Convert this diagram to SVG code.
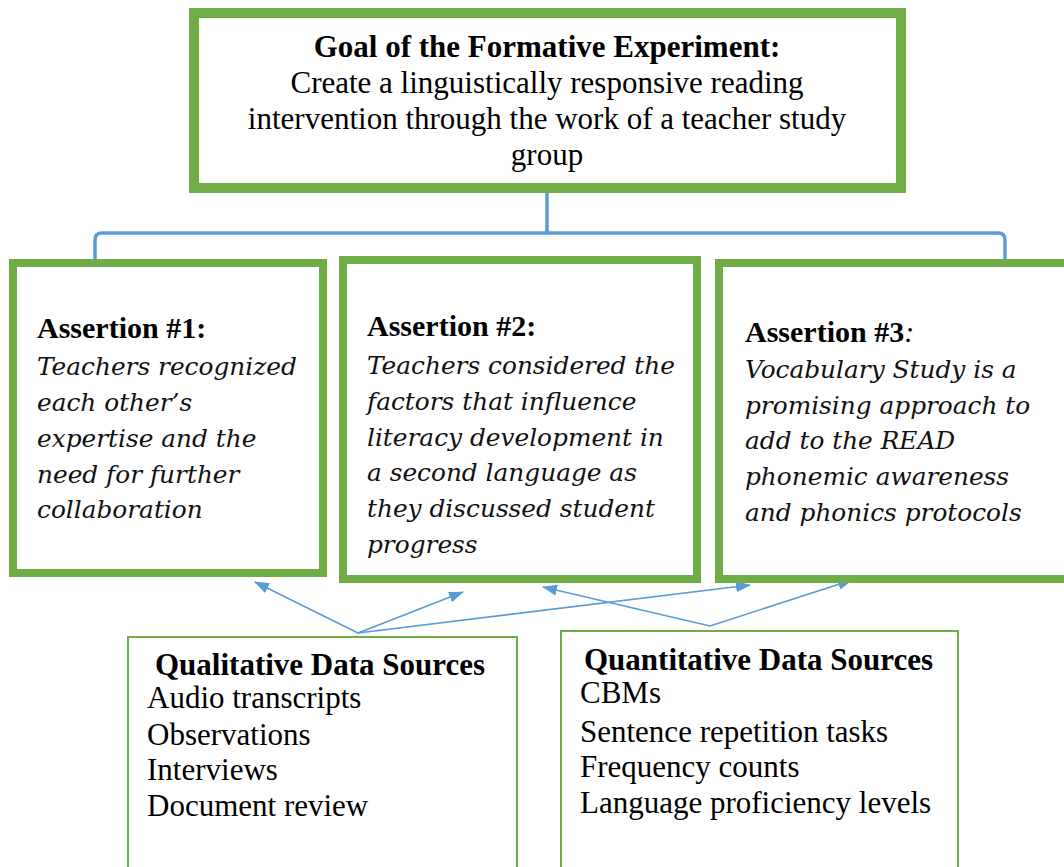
<svg xmlns="http://www.w3.org/2000/svg" width="1064" height="867" viewBox="0 0 1064 867">
<style>
.box{fill:#fff;stroke:#70AD47}
.thick{stroke-width:10}
.mid{stroke-width:8}
.thin{stroke-width:2}
.t{font-family:"Liberation Serif","Times New Roman",serif;font-size:31px;fill:#000}
.h{font-family:"Liberation Serif","Times New Roman",serif;font-size:30px;font-weight:bold;fill:#000}
.b{font-weight:bold}
.it{font-family:"DejaVu Serif",serif;font-style:italic;font-size:24.8px;fill:#111}
.c{text-anchor:middle}
.con{fill:none;stroke:#5B9BD5}
.br{stroke-width:3.5}
.ar{stroke-width:1.6}
</style>
<defs>
<marker id="ah" markerUnits="userSpaceOnUse" viewBox="0 0 15 11" markerWidth="15" markerHeight="11" refX="14" refY="5.5" orient="auto">
<path d="M0,0 L15,5.5 L0,11 Z" fill="#5B9BD5"/>
</marker>
</defs>
<rect width="1064" height="867" fill="#fff"/>
<g id="connectors">
<path class="con br" d="M547,193 V233 M95,260 V240 Q95,233 102,233 H998 Q1005,233 1005,240 V260"/>
<path class="con ar" d="M358,633 L255,582" marker-end="url(#ah)"/>
<path class="con ar" d="M358,633 L463,592" marker-end="url(#ah)"/>
<path class="con ar" d="M358,633 L750,585" marker-end="url(#ah)"/>
<path class="con ar" d="M710,626 L543,587" marker-end="url(#ah)"/>
<path class="con ar" d="M710,626 L852,580" marker-end="url(#ah)"/>
</g>
<g id="goal">
<rect class="box thick" x="194" y="13" width="707" height="175"/>
<text class="t b c" x="547" y="57">Goal of the Formative Experiment:</text>
<text class="t c" x="547" y="93">Create a linguistically responsive reading</text>
<text class="t c" x="547" y="129">intervention through the work of a teacher study</text>
<text class="t c" x="547" y="165">group</text>
</g>
<g id="assertion1">
<rect class="box mid" x="13" y="263" width="310" height="310"/>
<text class="h" x="37" y="338">Assertion #1:</text>
<text class="it" x="37" y="375">Teachers recognized</text>
<text class="it" x="37" y="411">each other’s</text>
<text class="it" x="37" y="447">expertise and the</text>
<text class="it" x="37" y="483">need for further</text>
<text class="it" x="37" y="518">collaboration</text>
</g>
<g id="assertion2">
<rect class="box mid" x="343" y="260" width="354" height="319"/>
<text class="h" x="367" y="336">Assertion #2:</text>
<text class="it" x="367" y="374">Teachers considered the</text>
<text class="it" x="367" y="410">factors that influence</text>
<text class="it" x="367" y="446">literacy development in</text>
<text class="it" x="367" y="481">a second language as</text>
<text class="it" x="367" y="517">they discussed student</text>
<text class="it" x="367" y="553">progress</text>
</g>
<g id="assertion3">
<rect class="box mid" x="719" y="263" width="360" height="316"/>
<text class="h" x="745" y="342">Assertion #3<tspan font-style="italic" font-weight="normal">:</tspan></text>
<text class="it" x="745" y="378">Vocabulary Study is a</text>
<text class="it" x="745" y="414">promising approach to</text>
<text class="it" x="745" y="449">add to the READ</text>
<text class="it" x="745" y="485">phonemic awareness</text>
<text class="it" x="745" y="521">and phonics protocols</text>
</g>
<g id="qualitative">
<rect class="box thin" x="128" y="637" width="389" height="250"/>
<text class="t b" x="155" y="675">Qualitative Data Sources</text>
<text class="t" x="147" y="708">Audio transcripts</text>
<text class="t" x="147" y="745">Observations</text>
<text class="t" x="147" y="780">Interviews</text>
<text class="t" x="147" y="816">Document review</text>
</g>
<g id="quantitative">
<rect class="box thin" x="561" y="631" width="397" height="250"/>
<text class="t b" x="584" y="670">Quantitative Data Sources</text>
<text class="t" x="580" y="703">CBMs</text>
<text class="t" x="580" y="742">Sentence repetition tasks</text>
<text class="t" x="580" y="777">Frequency counts</text>
<text class="t" x="580" y="813">Language proficiency levels</text>
</g>
</svg>
